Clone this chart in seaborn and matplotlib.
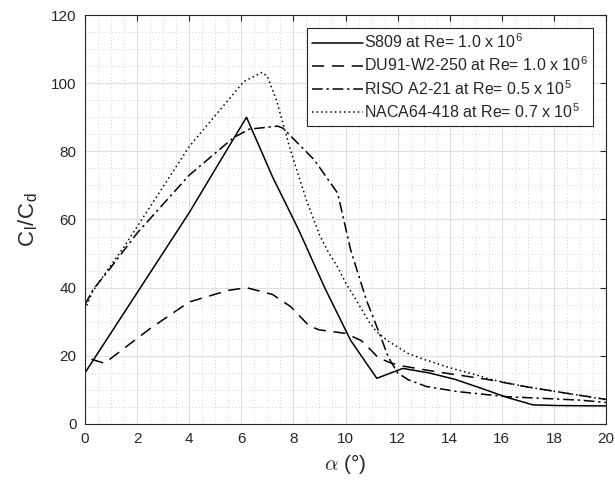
import matplotlib
matplotlib.use("Agg")
import matplotlib.pyplot as plt
import seaborn as sns
from matplotlib.ticker import MultipleLocator

# angle of attack (deg) and glide ratio Cl/Cd
s809_alpha = [0, 2, 4, 6.2, 7.2, 8.2, 9.2, 10.2, 11.2, 12.2, 13.2, 14.2, 15.2, 16.2, 17.2, 18.2, 20]
s809_ratio = [15, 38.5, 62, 90, 72.5, 57, 40, 24.5, 13.4, 16.3, 15, 13.1, 10.5, 7.8, 5.6, 5.4, 5.3]

du91_alpha = [0.25, 0.75, 1.5, 2.5, 4, 5.5, 6.2, 7.2, 7.9, 8.6, 9.0, 10.0, 10.6, 11.0, 11.25,
              11.7, 12.2, 13.5, 14.3, 15.5, 16.8, 18.5, 20]
du91_ratio = [19, 17.8, 22.2, 28, 35.8, 39.2, 40, 38, 34.4, 28.8, 27.6, 26.6, 24.5, 21.5, 19.5,
              18, 17, 15.3, 14.4, 13.0, 11.1, 9.0, 7.2]

riso_alpha = [0, 0.3, 1, 2, 4, 5.7, 6.3, 7.4, 7.6, 8.8, 9.7, 10.2, 10.8, 11.3, 11.65, 12.0,
              12.4, 13.1, 14.3, 16.2, 19, 20]
riso_ratio = [35, 39.3, 46, 56, 73, 84, 86.5, 87.4, 86.8, 77.5, 67.7, 51, 36.4, 26.6, 19.5, 15,
              13, 11, 9.5, 8.0, 7.0, 6.3]

naca_alpha = [0, 0.3, 1.5, 4, 6.1, 6.8, 7.0, 7.35, 7.9, 8.5, 9.0, 9.3, 9.7, 10.0, 10.4, 10.9,
              11.2, 11.6, 12.4, 13, 14, 15.2, 15.5, 16.8, 18.5, 20]
naca_ratio = [33.5, 39, 52, 81.4, 100.5, 103.2, 102, 95, 80, 65.7, 55.5, 51, 46, 41.5, 36.5, 30,
              27, 24.5, 20.7, 19, 16.5, 14, 13.2, 11.1, 9.0, 7.2]

labels = [
    r"S809 at Re= 1.0 x 10$^{\mathregular{6}}$",
    r"DU91-W2-250 at Re= 1.0 x 10$^{\mathregular{6}}$",
    r"RISO A2-21 at Re= 0.5 x 10$^{\mathregular{5}}$",
    r"NACA64-418 at Re= 0.7 x 10$^{\mathregular{5}}$",
]

sns.set_style("white")
plt.rcParams["font.family"] = ["Liberation Sans", "DejaVu Sans"]
plt.rcParams["mathtext.fontset"] = "cm"
plt.rcParams["axes.unicode_minus"] = False

fig = plt.figure(figsize=(6.15, 4.83), dpi=100)
fig.subplots_adjust(left=0.1382, right=0.9854, top=0.9689, bottom=0.1222)
ax = fig.add_subplot(111)

series = [
    (s809_alpha, s809_ratio, "-"),
    (du91_alpha, du91_ratio, (0, (8, 5))),
    (riso_alpha, riso_ratio, (0, (7, 2.5, 1.5, 2.5))),
    (naca_alpha, naca_ratio, (0, (1, 2))),
]
for (a, r, ls), lab in zip(series, labels):
    sns.lineplot(x=a, y=r, ax=ax, color="black", linewidth=1.1, linestyle=ls,
                 label=lab, estimator=None, sort=False)

ax.set_xlim(0, 20)
ax.set_ylim(0, 120)
ax.xaxis.set_major_locator(MultipleLocator(2))
ax.yaxis.set_major_locator(MultipleLocator(20))
ax.xaxis.set_minor_locator(MultipleLocator(0.5))
ax.yaxis.set_minor_locator(MultipleLocator(5))

axis_color = "#262626"
for sp in ax.spines.values():
    sp.set_color(axis_color)
    sp.set_linewidth(0.8)
ax.tick_params(which="major", direction="in", length=4, width=0.8, color=axis_color,
               labelcolor=axis_color, labelsize=11, top=True, right=True, pad=6)
ax.tick_params(which="minor", length=0, top=True, right=True)

ax.grid(True, which="major", color="#dedede", linewidth=0.8, linestyle="-")
ax.grid(True, which="minor", color="#c4c4c4", linewidth=0.6, linestyle=(0, (1, 3)))
ax.set_axisbelow(True)

ax.set_xlabel(r"$\alpha$ (°)", fontsize=15, color=axis_color, labelpad=4)
ax.set_ylabel(r"C$_{\mathregular{l}}$/C$_{\mathregular{d}}$", fontsize=16, color=axis_color, labelpad=8)

leg = ax.legend(loc="upper right", fontsize=11.5, frameon=True, fancybox=False,
                handlelength=3.2, handletextpad=0.1, labelspacing=0.3,
                borderaxespad=0.8, borderpad=0.3)
leg.get_frame().set_edgecolor(axis_color)
leg.get_frame().set_linewidth(0.8)
leg.get_frame().set_facecolor("white")
leg.get_frame().set_alpha(1.0)

fig.savefig("out.png", dpi=100)
